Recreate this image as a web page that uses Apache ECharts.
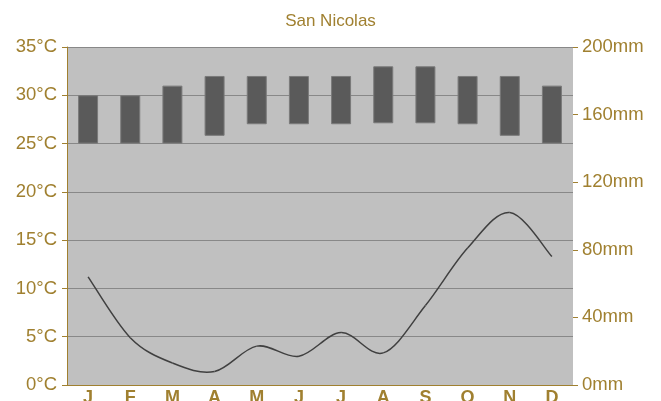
<!DOCTYPE html>
<html>
<head>
<meta charset="utf-8">
<script src="https://cdn.jsdelivr.net/npm/echarts@6/dist/echarts.min.js"></script>
<style>html,body{margin:0;padding:0;background:#fff}#c{width:661px;height:401px}</style>
</head>
<body>
<div id="c"></div>
<script>
var months = ['J','F','M','A','M','J','J','A','S','O','N','D'];
var tempMax = [30, 30, 31, 32, 32, 32, 32, 33, 33, 32, 32, 31];
var tempMin = [25, 25, 25, 25.8, 27, 27, 27, 27.1, 27.1, 27, 25.8, 25];
var precip = [64, 28, 13, 8, 23, 17, 31, 19, 47, 81, 102, 76];

var gold = '#a08030';
var range = tempMax.map(function(v, i){ return +(v - tempMin[i]).toFixed(2); });

// Catmull-Rom segment from point i to i+1, positioned by the axes via api.coord
function renderSeg(params, api) {
  var i = params.dataIndex;
  var n = precip.length;
  if (i >= n - 1) return null;
  function pt(k) { k = Math.max(0, Math.min(n - 1, k)); return api.coord([k, precip[k]]); }
  var p0 = pt(i - 1), p1 = pt(i), p2 = pt(i + 1), p3 = pt(i + 2);
  var t = 1 / 6;
  var c1 = [p1[0] + (p2[0] - p0[0]) * t, p1[1] + (p2[1] - p0[1]) * t];
  var c2 = [p2[0] - (p3[0] - p1[0]) * t, p2[1] - (p3[1] - p1[1]) * t];
  return {
    type: 'bezierCurve',
    shape: { x1: p1[0], y1: p1[1], cpx1: c1[0], cpy1: c1[1], cpx2: c2[0], cpy2: c2[1], x2: p2[0], y2: p2[1] },
    style: { stroke: '#404040', lineWidth: 1.5, fill: null }
  };
}

var chart = echarts.init(document.getElementById('c'));
chart.setOption({
  animation: false,
  title: {
    text: 'San Nicolas', left: 'center', top: 8,
    textStyle: { color: gold, fontSize: 17, fontWeight: 'normal', fontFamily: 'Liberation Sans' }
  },
  grid: {
    left: 67, right: 88, top: 47, bottom: 16,
    outerBoundsMode: 'none', containLabel: false,
    show: true, backgroundColor: '#c0c0c0', borderWidth: 0
  },
  xAxis: {
    type: 'category', data: months,
    axisLine: { lineStyle: { color: gold, width: 1 } },
    axisTick: { alignWithLabel: true, length: 5, lineStyle: { color: gold } },
    axisLabel: { color: gold, fontSize: 18, fontWeight: 'bold', fontFamily: 'Liberation Sans', margin: 4 }
  },
  yAxis: [{
    type: 'value', min: 0, max: 35, interval: 5,
    axisLine: { show: true, lineStyle: { color: gold } },
    axisTick: { show: true, length: 5, lineStyle: { color: gold } },
    axisLabel: { color: gold, fontSize: 18.5, fontFamily: 'Liberation Sans', margin: 10, formatter: '{value}°C' },
    splitLine: { lineStyle: { color: '#888888', width: 1 } }
  }, {
    type: 'value', min: 0, max: 200, interval: 40,
    axisLine: { show: false },
    axisTick: { show: true, length: 5, lineStyle: { color: gold } },
    axisLabel: { color: gold, fontSize: 18.5, fontFamily: 'Liberation Sans', margin: 9, formatter: '{value}mm' },
    splitLine: { show: false }
  }],
  series: [{
    type: 'bar', stack: 't', data: tempMin, barWidth: 20,
    itemStyle: { color: 'transparent' }, silent: true
  }, {
    type: 'bar', stack: 't', data: range, barWidth: 20,
    itemStyle: { color: '#5a5a5a', borderColor: '#7a7a7a', borderWidth: 1 }
  }, {
    type: 'custom', yAxisIndex: 1, renderItem: renderSeg, z: 5,
    data: precip.map(function(v, i){ return [i, v]; }),
    encode: { x: 0, y: 1 }
  }]
});
</script>
</body>
</html>
